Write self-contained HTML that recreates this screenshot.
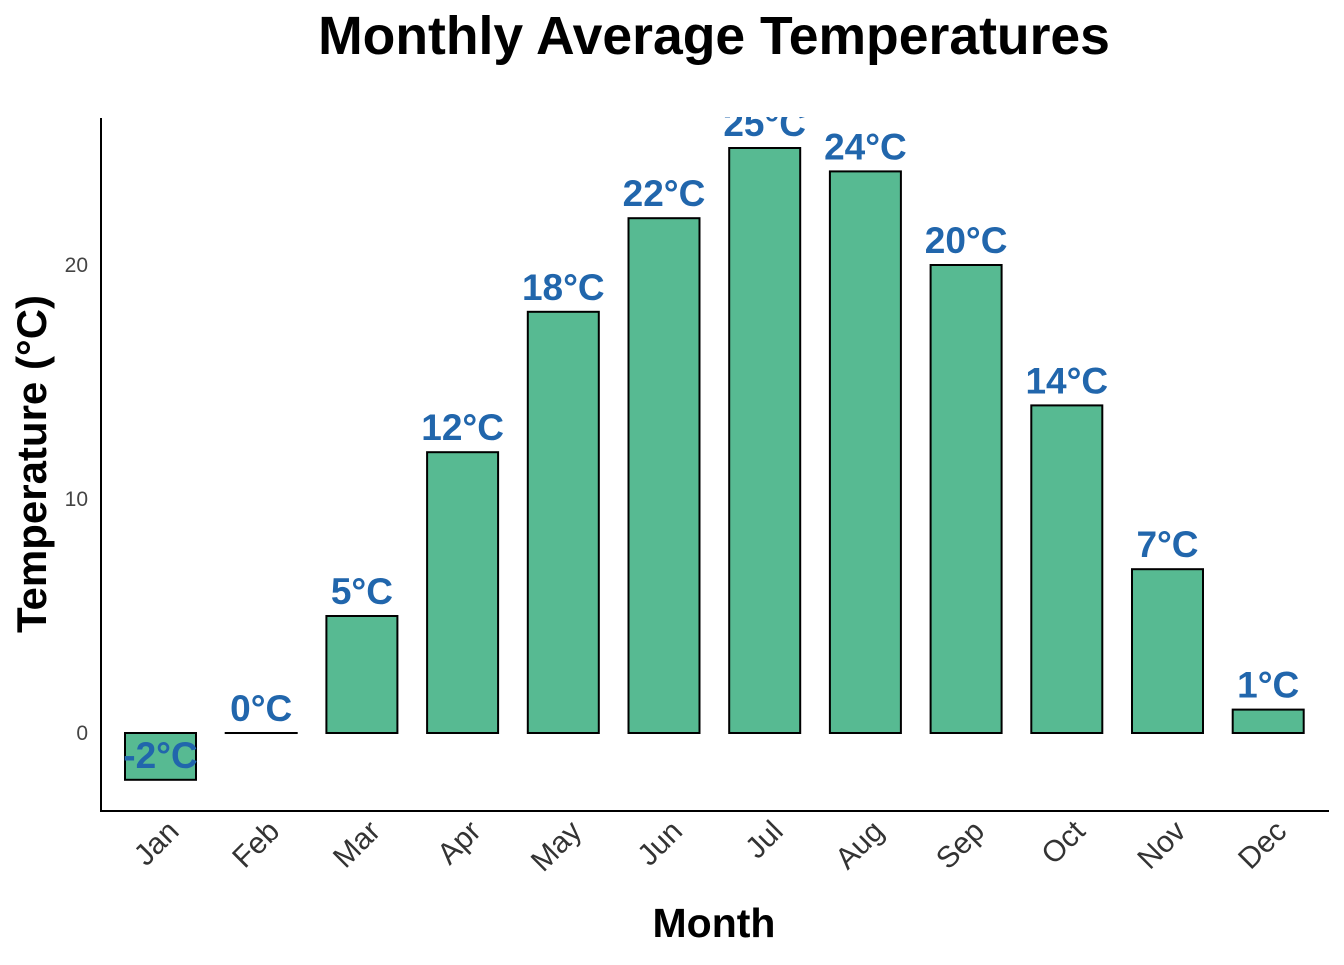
<!DOCTYPE html>
<html><head><meta charset="utf-8"><style>
body{margin:0;background:#fff;font-family:"Liberation Sans",Arial,sans-serif}
</style></head><body>
<svg id="chart" width="1344" height="960" xmlns="http://www.w3.org/2000/svg">
<defs><clipPath id="panel"><rect x="101" y="117" width="1240" height="695"/></clipPath></defs>
<text x="714" y="54" text-anchor="middle" font-size="53.5" font-weight="bold">Monthly Average Temperatures</text>
<g id="bars" clip-path="url(#panel)"></g>
<g id="ylabels"></g>
<g id="xlabels"></g>
<line x1="101" y1="118" x2="101" y2="811" stroke="#000" stroke-width="2"/>
<line x1="100" y1="811" x2="1329" y2="811" stroke="#000" stroke-width="2"/>
<text transform="translate(46,464) rotate(-90)" text-anchor="middle" font-size="42" font-weight="bold">Temperature (°C)</text>
<text x="714" y="937" text-anchor="middle" font-size="41" font-weight="bold">Month</text>
</svg>
<script>
const months=["Jan","Feb","Mar","Apr","May","Jun","Jul","Aug","Sep","Oct","Nov","Dec"];
const temps=[-2,0,5,12,18,22,25,24,20,14,7,1];
const yTicks=[0,10,20];
const NS="http://www.w3.org/2000/svg";
function y(v){return 733-v*23.4;}
function x(i){return 160.5+i*100.7;}
const bw=71;
const bars=document.getElementById('bars'),yl=document.getElementById('ylabels'),xl=document.getElementById('xlabels');
function mk(t,a,p){const e=document.createElementNS(NS,t);for(const k in a)e.setAttribute(k,a[k]);p.appendChild(e);return e;}
temps.forEach((v,i)=>{
 const top=Math.min(y(v),y(0)),h=Math.max(Math.abs(y(v)-y(0)),0.01);
 const r=mk('rect',{x:x(i)-bw/2,y:top,width:bw,height:h,fill:'#57ba92',stroke:'#000','stroke-width':2},bars);
 
 
 const t=mk('text',{x:x(i),y:y(v)-12,'text-anchor':'middle','font-size':37,'font-weight':'bold',fill:'#2166ac'},bars);
 t.textContent=v+'°C';
 
 
 const m=mk('text',{transform:`translate(${x(i)+20},${833}) rotate(-45)`,'text-anchor':'end','font-size':30,fill:'#333'},xl);
 m.textContent=months[i];
 
 
});
yTicks.forEach(v=>{
 const t=mk('text',{x:88,y:y(v)+7,'text-anchor':'end','font-size':21,fill:'#444'},yl);
 t.textContent=v;
 
 
});
</script>
</body></html>
